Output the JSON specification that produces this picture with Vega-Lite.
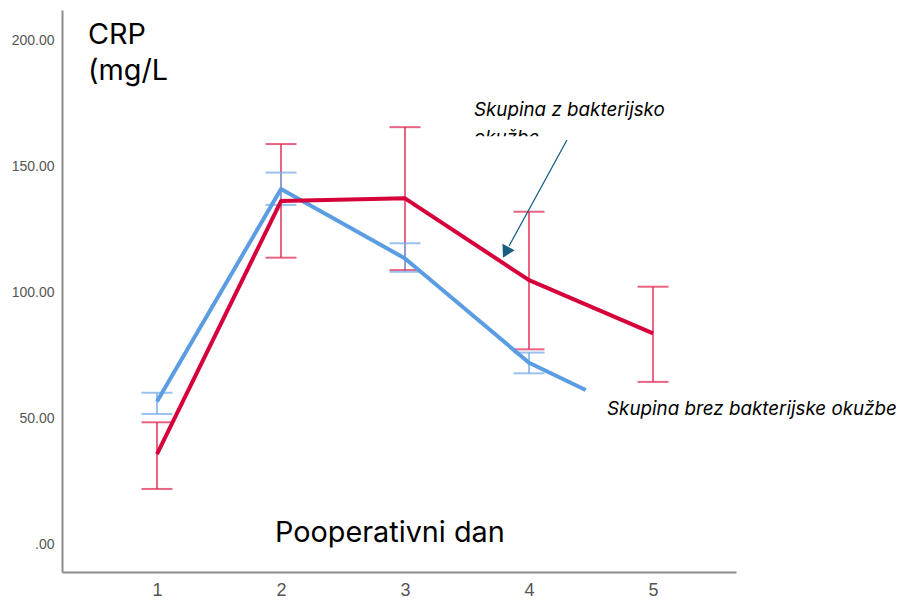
{
  "$schema": "https://vega.github.io/schema/vega-lite/v6.json",
  "width": 674,
  "height": 562,
  "autosize": {"type": "none"},
  "padding": {"left": 62, "top": 10, "right": 165, "bottom": 31},
  "background": "white",
  "config": {"view": {"stroke": null}},
  "datasets": {
    "means": [
      {"group": "z", "day": 1, "crp": 36.0},
      {"group": "z", "day": 2, "crp": 136.2},
      {"group": "z", "day": 3, "crp": 137.3},
      {"group": "z", "day": 4, "crp": 104.9},
      {"group": "z", "day": 5, "crp": 83.8},
      {"group": "brez", "day": 1, "crp": 56.8},
      {"group": "brez", "day": 2, "crp": 141.0},
      {"group": "brez", "day": 3, "crp": 113.5},
      {"group": "brez", "day": 4, "crp": 72.2},
      {"group": "brez", "day": 4.457, "crp": 61.4}
    ],
    "bars": [
      {"group": "z", "day": 1, "lo": 22.2, "hi": 48.6},
      {"group": "z", "day": 2, "lo": 113.8, "hi": 158.8},
      {"group": "z", "day": 3, "lo": 108.9, "hi": 165.5},
      {"group": "z", "day": 4, "lo": 77.5, "hi": 132.0},
      {"group": "z", "day": 5, "lo": 64.6, "hi": 102.3},
      {"group": "brez", "day": 1, "lo": 51.9, "hi": 60.3},
      {"group": "brez", "day": 2, "lo": 134.7, "hi": 147.5},
      {"group": "brez", "day": 3, "lo": 108.2, "hi": 119.5},
      {"group": "brez", "day": 4, "lo": 68.0, "hi": 76.2}
    ],
    "labels": [
      {"x": 0.444, "y": 198.4, "text": "CRP", "kind": "big"},
      {"x": 0.444, "y": 184.2, "text": "(mg/L", "kind": "big"},
      {"x": 1.952, "y": 1.3, "text": "Pooperativni dan", "kind": "big"},
      {"x": 3.556, "y": 169.9, "text": "Skupina z bakterijsko", "kind": "it"},
      {"x": 3.556, "y": 158.8, "text": "okužbe", "kind": "it"},
      {"x": 4.629, "y": 51.5, "text": "Skupina brez bakterijske okužbe", "kind": "it"}
    ],
    "mask": [
      {"x": 3.5, "x2": 4.25, "y": 150.0, "y2": 161.9}
    ],
    "arrow": [
      {"x": 4.306, "y": 160.4, "x2": 3.84, "y2": 118.5}
    ],
    "head": [
      {"x": 3.82, "y": 116.6}
    ]
  },
  "layer": [
    {
      "data": {"name": "bars"},
      "mark": {"type": "rule", "strokeWidth": 2, "opacity": 0.75},
      "encoding": {
        "x": {"field": "day", "type": "quantitative", "scale": {"domain": [0.234, 5.669], "nice": false, "zero": false},
          "axis": {"values": [1, 2, 3, 4, 5], "title": null, "grid": false, "ticks": false, "domainColor": "#8c8c8c", "domainWidth": 2, "labelFont": "Liberation Sans", "labelFontSize": 18, "labelColor": "#555555", "labelPadding": 9, "format": "d"}},
        "y": {"field": "lo", "type": "quantitative", "scale": {"domain": [-10.7, 211.9], "nice": false, "zero": false},
          "axis": {"values": [0, 50, 100, 150, 200], "title": null, "grid": false, "ticks": false, "domainColor": "#8c8c8c", "domainWidth": 2, "labelFont": "Liberation Sans", "labelFontSize": 14, "labelColor": "#555555", "labelPadding": 8, "labelExpr": "datum.value == 0 ? '.00' : format(datum.value, '.2f')"}},
        "y2": {"field": "hi"},
        "color": {"field": "group", "type": "nominal", "scale": {"domain": ["z", "brez"], "range": ["#e0305a", "#78aee8"]}, "legend": null}
      }
    },
    {
      "data": {"name": "bars"},
      "mark": {"type": "tick", "orient": "horizontal", "size": 31, "thickness": 2, "opacity": 0.75},
      "encoding": {
        "x": {"field": "day", "type": "quantitative"},
        "y": {"field": "lo", "type": "quantitative"},
        "color": {"field": "group", "type": "nominal", "legend": null}
      }
    },
    {
      "data": {"name": "bars"},
      "mark": {"type": "tick", "orient": "horizontal", "size": 31, "thickness": 2, "opacity": 0.75},
      "encoding": {
        "x": {"field": "day", "type": "quantitative"},
        "y": {"field": "hi", "type": "quantitative"},
        "color": {"field": "group", "type": "nominal", "legend": null}
      }
    },
    {
      "data": {"name": "means"},
      "transform": [{"filter": "datum.group == 'brez'"}],
      "mark": {"type": "line", "strokeWidth": 4, "color": "#5b9de3", "strokeJoin": "round"},
      "encoding": {
        "x": {"field": "day", "type": "quantitative"},
        "y": {"field": "crp", "type": "quantitative"}
      }
    },
    {
      "data": {"name": "means"},
      "transform": [{"filter": "datum.group == 'z'"}],
      "mark": {"type": "line", "strokeWidth": 4, "color": "#d6003a", "strokeJoin": "round"},
      "encoding": {
        "x": {"field": "day", "type": "quantitative"},
        "y": {"field": "crp", "type": "quantitative"}
      }
    },
    {
      "data": {"name": "labels"},
      "transform": [{"filter": "datum.kind == 'big'"}],
      "mark": {"type": "text", "align": "left", "baseline": "alphabetic", "font": "Inter", "fontSize": 28.8, "color": "#000000"},
      "encoding": {
        "x": {"field": "x", "type": "quantitative"},
        "y": {"field": "y", "type": "quantitative"},
        "text": {"field": "text"}
      }
    },
    {
      "data": {"name": "labels"},
      "transform": [{"filter": "datum.kind == 'it'"}],
      "mark": {"type": "text", "align": "left", "baseline": "alphabetic", "font": "Inter", "fontStyle": "italic", "fontSize": 18.8, "color": "#000000"},
      "encoding": {
        "x": {"field": "x", "type": "quantitative"},
        "y": {"field": "y", "type": "quantitative"},
        "text": {"field": "text"}
      }
    },
    {
      "data": {"name": "mask"},
      "mark": {"type": "rect", "color": "white", "opacity": 1},
      "encoding": {
        "x": {"field": "x", "type": "quantitative"},
        "x2": {"field": "x2"},
        "y": {"field": "y", "type": "quantitative"},
        "y2": {"field": "y2"}
      }
    },
    {
      "data": {"name": "arrow"},
      "mark": {"type": "rule", "strokeWidth": 1.3, "color": "#1b5e82"},
      "encoding": {
        "x": {"field": "x", "type": "quantitative"},
        "y": {"field": "y", "type": "quantitative"},
        "x2": {"field": "x2"},
        "y2": {"field": "y2"}
      }
    },
    {
      "data": {"name": "head"},
      "mark": {"type": "point", "shape": "triangle", "filled": true, "size": 190, "angle": 208, "color": "#1b5e82", "opacity": 1},
      "encoding": {
        "x": {"field": "x", "type": "quantitative"},
        "y": {"field": "y", "type": "quantitative"}
      }
    }
  ]
}
